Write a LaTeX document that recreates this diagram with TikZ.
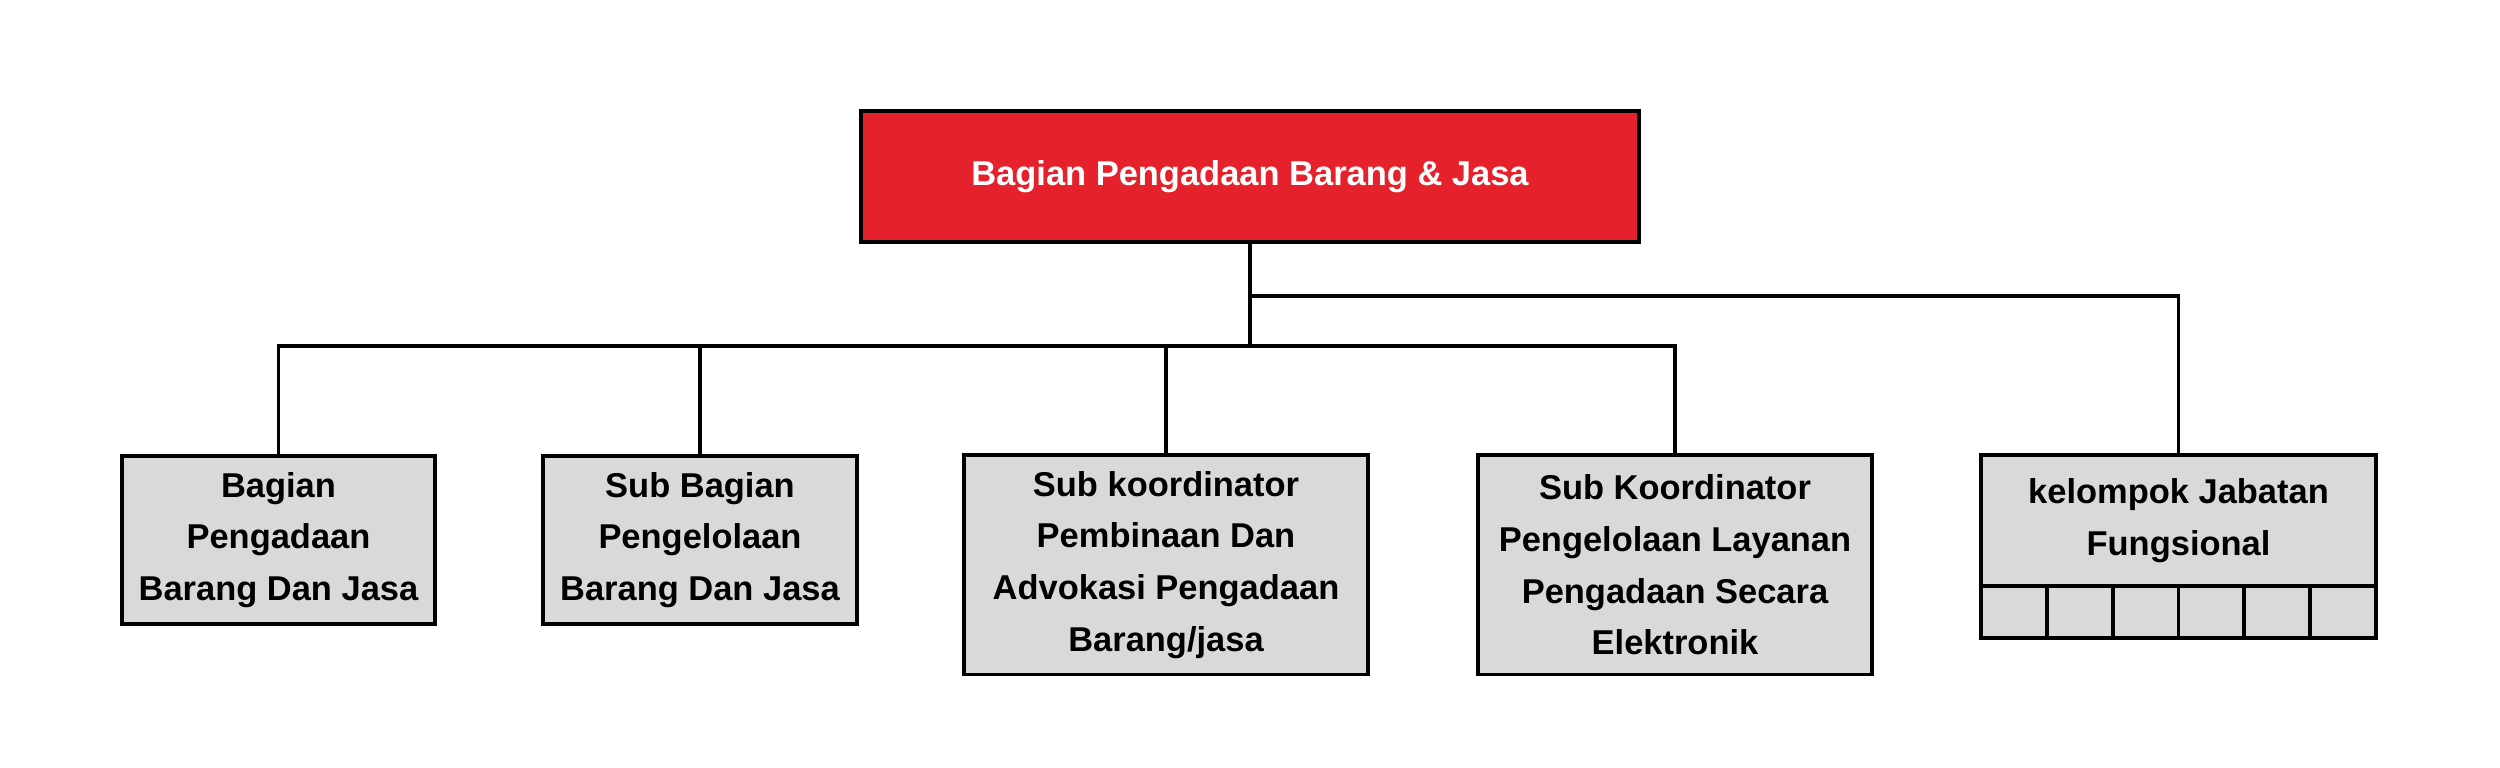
\documentclass[tikz,border=0pt]{standalone}
\usepackage{fontspec}
\setmainfont{Liberation Sans}
\usepackage{tikz}
\usetikzlibrary{positioning}
\definecolor{orgred}{RGB}{229,34,43}
\definecolor{orggray}{RGB}{217,217,217}

\begin{document}
\begin{tikzpicture}[x=0.01cm, y=-0.01cm,
  unit/.style={draw, line width=1.1pt, fill=orggray, align=center, inner sep=0pt,
    font=\fontsize{9.8pt}{14.7pt}\selectfont\bfseries},
  cell/.style={draw, line width=1.1pt, fill=orggray, inner sep=0pt,
    minimum width=0.6583cm, minimum height=0.52cm},
  link/.style={line width=0.9pt}]
\useasboundingbox (0,0) rectangle (2500,768);

% Head
\node[unit, fill=orgred, text=white, minimum width=7.78cm, minimum height=1.31cm] (head) at (1250,176.5) {Bagian Pengadaan Barang \& Jasa};

% Units
\node[unit, minimum width=3.13cm, minimum height=1.68cm] (unit1) at (278.5,540) {Bagian\\Pengadaan\\Barang Dan Jasa};
\node[unit, minimum width=3.14cm, minimum height=1.68cm] (unit2) at (700,540) {Sub Bagian\\Pengelolaan\\Barang Dan Jasa};
\node[unit, minimum width=4.04cm, minimum height=2.19cm] (unit3) at (1166,565) {Sub koordinator\\Pembinaan Dan\\Advokasi Pengadaan\\Barang/jasa};
\node[unit, minimum width=3.94cm, minimum height=2.19cm] (unit4) at (1675,565) {Sub Koordinator\\Pengelolaan Layanan\\Pengadaan Secara\\Elektronik};
\node[unit, minimum width=3.95cm, minimum height=1.31cm] (unit5) at (2178.5,520.5) {kelompok Jabatan\\Fungsional};
\foreach \i in {0,...,5}
  \node[cell] (cell\i) at (2013.9+65.83*\i,612) {};

% Lines
\foreach \u in {unit1,unit2,unit3,unit4}
  \draw[link] (head.south) -- ++(0,102) -| (\u.north);
\draw[link] (head.south) -- ++(0,52) -| (unit5.north);
\end{tikzpicture}
\end{document}
